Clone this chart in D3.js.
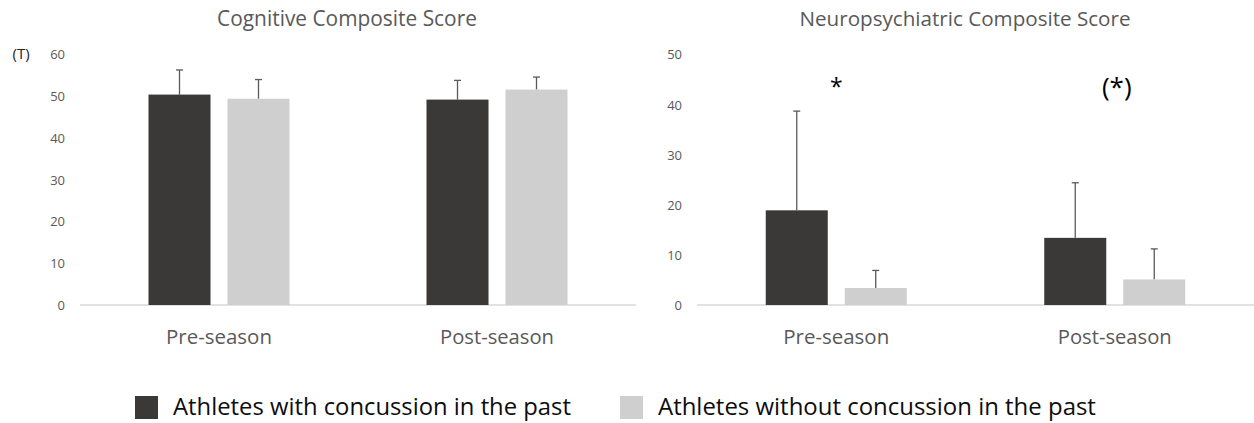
<!DOCTYPE html>
<html>
<head>
<meta charset="utf-8">
<script src="https://cdn.jsdelivr.net/npm/d3@7"></script>
<style>
  html, body { margin: 0; padding: 0; background: #fff; }
  svg { display: block; }
  text { font-family: "Open Sans", "Noto Sans", sans-serif; }
</style>
</head>
<body>
<svg id="chart" width="1254" height="423"></svg>
<script>
// ---------- data ----------
const categories = ["Pre-season", "Post-season"];
const seriesNames = ["Athletes with concussion in the past", "Athletes without concussion in the past"];

const cognitiveMeans = [[50.4, 49.4], [49.2, 51.6]];   // [category][series]
const cognitiveUpper = [[56.3, 54.0], [53.8, 54.6]];
const cognitiveTicks = [0, 10, 20, 30, 40, 50, 60];

const neuroMeans = [[18.9, 3.4], [13.4, 5.1]];
const neuroUpper = [[38.7, 6.9], [24.4, 11.2]];
const neuroTicks = [0, 10, 20, 30, 40, 50];
const neuroMarks = ["*", "(*)"];

const titles = ["Cognitive Composite Score", "Neuropsychiatric Composite Score"];
const unitLabel = "(T)";

// ---------- styles ----------
const colors = ["#3a3937", "#d0cfcf"];
const textGray = "#595959";
const axisGray = "#d9d9d9";
const errColor = "#5a5a5a";

const svg = d3.select("#chart");

function fitText(sel, target) {
  const node = sel.node();
  const base = parseFloat(sel.attr("font-size"));
  const w = node.getComputedTextLength();
  if (w > 0) sel.attr("font-size", (base * target / w).toFixed(2));
}

function panel(opts) {
  const g = svg.append("g");
  const x0 = d3.scaleBand().domain(categories).range([opts.x0, opts.x1]).paddingInner(0).paddingOuter(0);
  const x1 = d3.scaleBand().domain(d3.range(seriesNames.length)).range([0, 141]).paddingInner(0.215);
  const y = d3.scaleLinear().domain([0, opts.max]).range([305, 54.5]);

  // axis line
  g.append("line")
    .attr("x1", opts.x0).attr("x2", opts.x1)
    .attr("y1", y(0)).attr("y2", y(0))
    .attr("stroke", axisGray).attr("stroke-width", 1.5);

  // y tick labels
  const yAxis = d3.axisLeft(y).tickValues(opts.ticks).tickSize(0).tickPadding(0);
  const ya = g.append("g").attr("transform", `translate(${opts.x0 - 15},0)`).call(yAxis);
  ya.select(".domain").remove();
  ya.attr("font-size", null).attr("font-family", null);
  ya.selectAll("text")
    .attr("fill", textGray)
    .attr("font-size", 13)
    .attr("dy", "0.34em");

  // x category labels
  categories.forEach((c, i) => {
    const t = g.append("text")
      .attr("x", x0(c) + x0.bandwidth() / 2)
      .attr("y", 344)
      .attr("text-anchor", "middle")
      .attr("fill", textGray)
      .attr("font-size", 19)
      .text(c);
    fitText(t, opts.catWidths[i]);
  });

  // bars
  categories.forEach((c, ci) => {
    const groupX = x0(c) + x0.bandwidth() / 2 - 70.5;
    seriesNames.forEach((s, si) => {
      const v = opts.means[ci][si];
      const up = opts.upper[ci][si];
      const bx = groupX + x1(si);
      const cx = bx + x1.bandwidth() / 2;
      g.append("line")
        .attr("x1", cx).attr("x2", cx)
        .attr("y1", y(v)).attr("y2", y(up))
        .attr("stroke", errColor).attr("stroke-width", 1.3);
      g.append("line")
        .attr("x1", cx - 3.5).attr("x2", cx + 3.5)
        .attr("y1", y(up)).attr("y2", y(up))
        .attr("stroke", errColor).attr("stroke-width", 1.3);
      g.append("rect")
        .attr("x", bx).attr("y", y(v))
        .attr("width", x1.bandwidth()).attr("height", y(0) - y(v))
        .attr("fill", colors[si]);
    });
  });

  // title
  const tt = g.append("text")
    .attr("x", opts.titleCenter)
    .attr("y", 26)
    .attr("text-anchor", "middle")
    .attr("fill", textGray)
    .attr("font-size", 18)
    .text(opts.title);
  fitText(tt, opts.titleWidth);

  return { g, x0, y };
}

// left panel
const left = panel({
  x0: 80, x1: 636, max: 60, ticks: cognitiveTicks,
  means: cognitiveMeans, upper: cognitiveUpper,
  title: titles[0], titleCenter: 347, titleWidth: 260,
  catWidths: [106, 114]
});
svg.append("text")
  .attr("x", 12.5).attr("y", 59)
  .attr("fill", "#262626")
  .attr("font-size", 15)
  .text(unitLabel);

// right panel
const right = panel({
  x0: 697, x1: 1254, max: 50, ticks: neuroTicks,
  means: neuroMeans, upper: neuroUpper,
  title: titles[1], titleCenter: 965, titleWidth: 331,
  catWidths: [106, 114]
});

// significance marks
categories.forEach((c, i) => {
  const cx = right.x0(c) + right.x0.bandwidth() / 2;
  svg.append("text")
    .attr("x", i === 0 ? cx : cx + 2)
    .attr("y", i === 0 ? 95 : 96)
    .attr("text-anchor", "middle")
    .attr("fill", "#000")
    .attr("font-size", i === 0 ? 23 : 26)
    .text(neuroMarks[i]);
});

// legend
const legendX = [135, 620];
const legendW = [398, 438];
seriesNames.forEach((s, i) => {
  svg.append("rect")
    .attr("x", legendX[i]).attr("y", 396)
    .attr("width", 23).attr("height", 23)
    .attr("fill", colors[i]);
  const t = svg.append("text")
    .attr("x", legendX[i] + 38).attr("y", 415)
    .attr("fill", "#0d0d0d")
    .attr("font-size", 21)
    .text(s);
  fitText(t, legendW[i]);
});
</script>
</body>
</html>
